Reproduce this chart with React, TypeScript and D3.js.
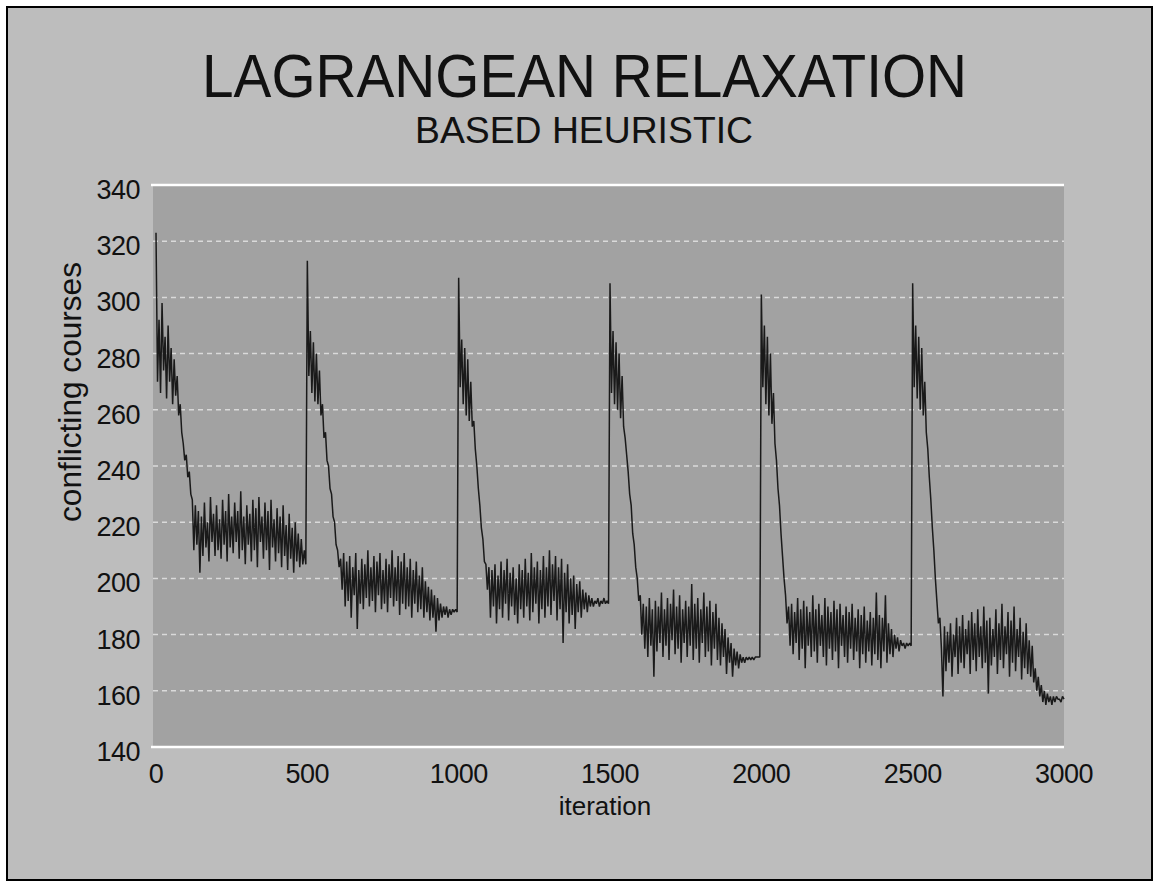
import * as d3 from "d3";
import React from "react";
import { useEffect, useRef } from "react";

const title = "LAGRANGEAN RELAXATION";
const subtitle = "BASED HEURISTIC";
const xLabel = "iteration";
const yLabel = "conflicting courses";

const xTicks = [0, 500, 1000, 1500, 2000, 2500, 3000];
const yTicks = [140, 160, 180, 200, 220, 240, 260, 280, 300, 320, 340];

// one sample every 5 iterations, each run restarts every 500 iterations
const step = 5;
const runLength = 500;

const run1 = [323, 270, 292, 266, 298, 274, 286, 264, 290, 270, 282, 262, 278, 265, 272, 258, 262, 252, 248, 242,
  244, 236, 238, 230, 228, 210, 226, 212, 224, 202, 222, 208, 227, 211, 220, 206, 229, 213, 223, 208,
  226, 210, 221, 207, 228, 212, 224, 206, 230, 211, 222, 209, 227, 213, 224, 207, 231, 210, 222, 205,
  226, 212, 223, 206, 228, 210, 225, 204, 229, 213, 222, 207, 227, 210, 224, 203, 228, 211, 221, 206,
  225, 209, 222, 204, 226, 208, 219, 203, 223, 207, 218, 202, 220, 206, 216, 204, 214, 205, 210, 205];
const run2 = [313, 272, 288, 266, 284, 263, 280, 262, 274, 258, 262, 250, 252, 242, 240, 232, 230, 222, 220, 212,
  210, 204, 207, 196, 209, 190, 206, 192, 208, 186, 204, 194, 209, 182, 203, 191, 207, 189, 205, 193,
  210, 190, 204, 192, 208, 188, 206, 194, 209, 189, 203, 191, 207, 188, 205, 193, 210, 190, 204, 192,
  208, 187, 206, 191, 209, 189, 204, 190, 207, 186, 203, 191, 206, 188, 201, 189, 204, 186, 199, 188,
  197, 185, 196, 186, 194, 181, 193, 185, 191, 186, 190, 187, 190, 186, 189, 187, 189, 188, 189, 188];
const run3 = [307, 268, 285, 262, 282, 258, 278, 256, 270, 254, 256, 246, 240, 232, 226, 218, 214, 206, 205, 196,
  204, 186, 203, 190, 205, 184, 201, 189, 206, 186, 203, 191, 207, 185, 202, 190, 204, 187, 200, 184,
  205, 189, 203, 186, 207, 190, 202, 185, 209, 188, 204, 191, 206, 184, 203, 189, 208, 186, 204, 190,
  210, 187, 205, 192, 208, 185, 204, 189, 207, 177, 202, 188, 205, 184, 200, 187, 201, 182, 198, 188,
  199, 186, 196, 189, 195, 188, 194, 190, 193, 190, 192, 191, 193, 190, 192, 191, 193, 191, 192, 191];
const run4 = [305, 266, 288, 262, 284, 260, 280, 257, 272, 254, 250, 244, 238, 230, 226, 216, 212, 204, 200, 192,
  194, 180, 191, 175, 190, 172, 193, 176, 189, 165, 192, 174, 190, 177, 195, 172, 189, 176, 193, 171,
  191, 178, 196, 173, 190, 175, 194, 170, 189, 177, 192, 172, 190, 176, 198, 171, 191, 175, 193, 170,
  189, 177, 195, 172, 190, 174, 192, 169, 188, 175, 191, 171, 186, 169, 184, 172, 182, 166, 179, 170,
  177, 165, 175, 169, 174, 168, 173, 170, 172, 170, 172, 171, 172, 171, 172, 171, 172, 172, 172, 172];
const run5 = [301, 268, 290, 262, 286, 258, 280, 255, 266, 248, 242, 232, 226, 216, 208, 200, 194, 184, 190, 176,
  191, 173, 188, 177, 193, 171, 189, 175, 192, 168, 190, 176, 188, 172, 194, 174, 189, 170, 191, 176,
  187, 172, 193, 169, 190, 175, 188, 171, 192, 174, 189, 168, 191, 176, 187, 172, 190, 170, 188, 175,
  191, 171, 186, 174, 189, 168, 187, 173, 190, 170, 185, 174, 188, 169, 186, 173, 195, 171, 187, 168,
  186, 174, 194, 170, 184, 173, 182, 172, 180, 175, 179, 174, 178, 176, 177, 175, 177, 176, 177, 176];
const run6 = [305, 268, 290, 264, 286, 260, 282, 258, 270, 252, 246, 236, 228, 218, 210, 200, 192, 184, 186, 175,
  158, 183, 167, 181, 170, 184, 165, 180, 172, 186, 166, 183, 170, 187, 168, 182, 173, 185, 166, 188,
  171, 184, 167, 189, 172, 183, 168, 190, 170, 185, 159, 186, 169, 182, 172, 189, 166, 184, 171, 191,
  168, 183, 173, 188, 165, 185, 170, 190, 167, 182, 172, 186, 164, 181, 168, 184, 166, 178, 165, 176,
  163, 168, 160, 165, 158, 162, 156, 160, 155, 159, 156, 158, 155, 158, 156, 158, 157, 157, 156, 158,
  157];

const runs = [run1, run2, run3, run4, run5, run6];

interface Sample {
  it: number,
  value: number
}

const Chart = () => {
  const chartArea = useRef(null);
  const width = 1154, height = 884;
  const plot = { left: 153, right: 1064, top: 185, bottom: 747 };
  const colors = { outer: "#bdbdbd", inner: "#a2a2a2", line: "#1a1a1a", ink: "#111" };

  useEffect(() => {
    createChart();
  }, []);

  const createChart = () => {
    const samples: Sample[] = runs.flatMap((run, k) =>
      run.map((v, i) => ({ it: k * runLength + i * step, value: v })));

    const x = d3.scaleLinear().domain([0, 3000]).range([156, 1064]);
    const y = d3.scaleLinear().domain([140, 340]).range([747, 185]);

    const svg = d3.select(chartArea.current)
      .attr("width", width)
      .attr("height", height);
    svg.selectAll("*").remove();

    const font = "'Liberation Sans', Arial, Helvetica, sans-serif";

    svg.append("rect")
      .attr("width", width).attr("height", height).attr("fill", "#fff");

    // outer frame
    svg.append("rect")
      .attr("x", 7).attr("y", 7)
      .attr("width", 1145).attr("height", 873)
      .attr("fill", colors.outer)
      .attr("stroke", "#000")
      .attr("stroke-width", 2);

    // plot area
    svg.append("rect")
      .attr("x", plot.left).attr("y", plot.top)
      .attr("width", plot.right - plot.left)
      .attr("height", plot.bottom - plot.top)
      .attr("fill", colors.inner);

    // grid lines
    svg.append("g")
      .selectAll("line")
      .data(yTicks.filter(t => t !== 140 && t !== 340))
      .enter()
      .append("line")
      .attr("x1", plot.left).attr("x2", plot.right)
      .attr("y1", d => y(d)).attr("y2", d => y(d))
      .attr("stroke", "#fff")
      .attr("stroke-opacity", 0.6)
      .attr("stroke-width", 1.5)
      .attr("stroke-dasharray", "5 4");

    svg.append("g")
      .selectAll("line")
      .data([140, 340])
      .enter()
      .append("line")
      .attr("x1", plot.left - 2).attr("x2", plot.right)
      .attr("y1", d => y(d)).attr("y2", d => y(d))
      .attr("stroke", "#fff")
      .attr("stroke-width", 2.5);

    // data line
    const line = d3.line<Sample>()
      .x(d => x(d.it))
      .y(d => y(d.value));

    svg.append("path")
      .datum(samples)
      .attr("d", line)
      .attr("fill", "none")
      .attr("stroke", colors.line)
      .attr("stroke-width", 1.5)
      .attr("stroke-linejoin", "bevel");

    // y tick labels
    svg.append("g")
      .selectAll("text")
      .data(yTicks)
      .enter()
      .append("text")
      .attr("x", 140)
      .attr("y", d => y(d) + 14)
      .attr("text-anchor", "end")
      .attr("font-family", font)
      .attr("font-size", "27px")
      .attr("letter-spacing", "-0.5px")
      .attr("fill", colors.ink)
      .text(d => d);

    // x tick labels
    svg.append("g")
      .selectAll("text")
      .data(xTicks)
      .enter()
      .append("text")
      .attr("x", d => x(d))
      .attr("y", 783)
      .attr("text-anchor", "middle")
      .attr("font-family", font)
      .attr("font-size", "27px")
      .attr("letter-spacing", "-0.5px")
      .attr("fill", colors.ink)
      .text(d => d);

    svg.append("text")
      .attr("x", 605).attr("y", 815)
      .attr("text-anchor", "middle")
      .attr("font-family", font)
      .attr("font-size", "26px")
      .attr("fill", colors.ink)
      .text(xLabel);

    svg.append("text")
      .attr("transform", "translate(81,392) rotate(-90)")
      .attr("text-anchor", "middle")
      .attr("font-family", font)
      .attr("font-size", "31px")
      .attr("textLength", 260)
      .attr("lengthAdjust", "spacingAndGlyphs")
      .attr("fill", colors.ink)
      .text(yLabel);

    svg.append("text")
      .attr("x", 202).attr("y", 97)
      .attr("font-family", font)
      .attr("font-size", "61px")
      .attr("textLength", 765)
      .attr("lengthAdjust", "spacingAndGlyphs")
      .attr("fill", colors.ink)
      .text(title);

    svg.append("text")
      .attr("x", 415).attr("y", 143)
      .attr("font-family", font)
      .attr("font-size", "37px")
      .attr("textLength", 338)
      .attr("lengthAdjust", "spacingAndGlyphs")
      .attr("fill", colors.ink)
      .text(subtitle);
  };

  return <svg ref={chartArea} style={{ position: "absolute", left: 0, top: 0, display: "block" }} />;
};

export default function App() {
  return <Chart />;
}
